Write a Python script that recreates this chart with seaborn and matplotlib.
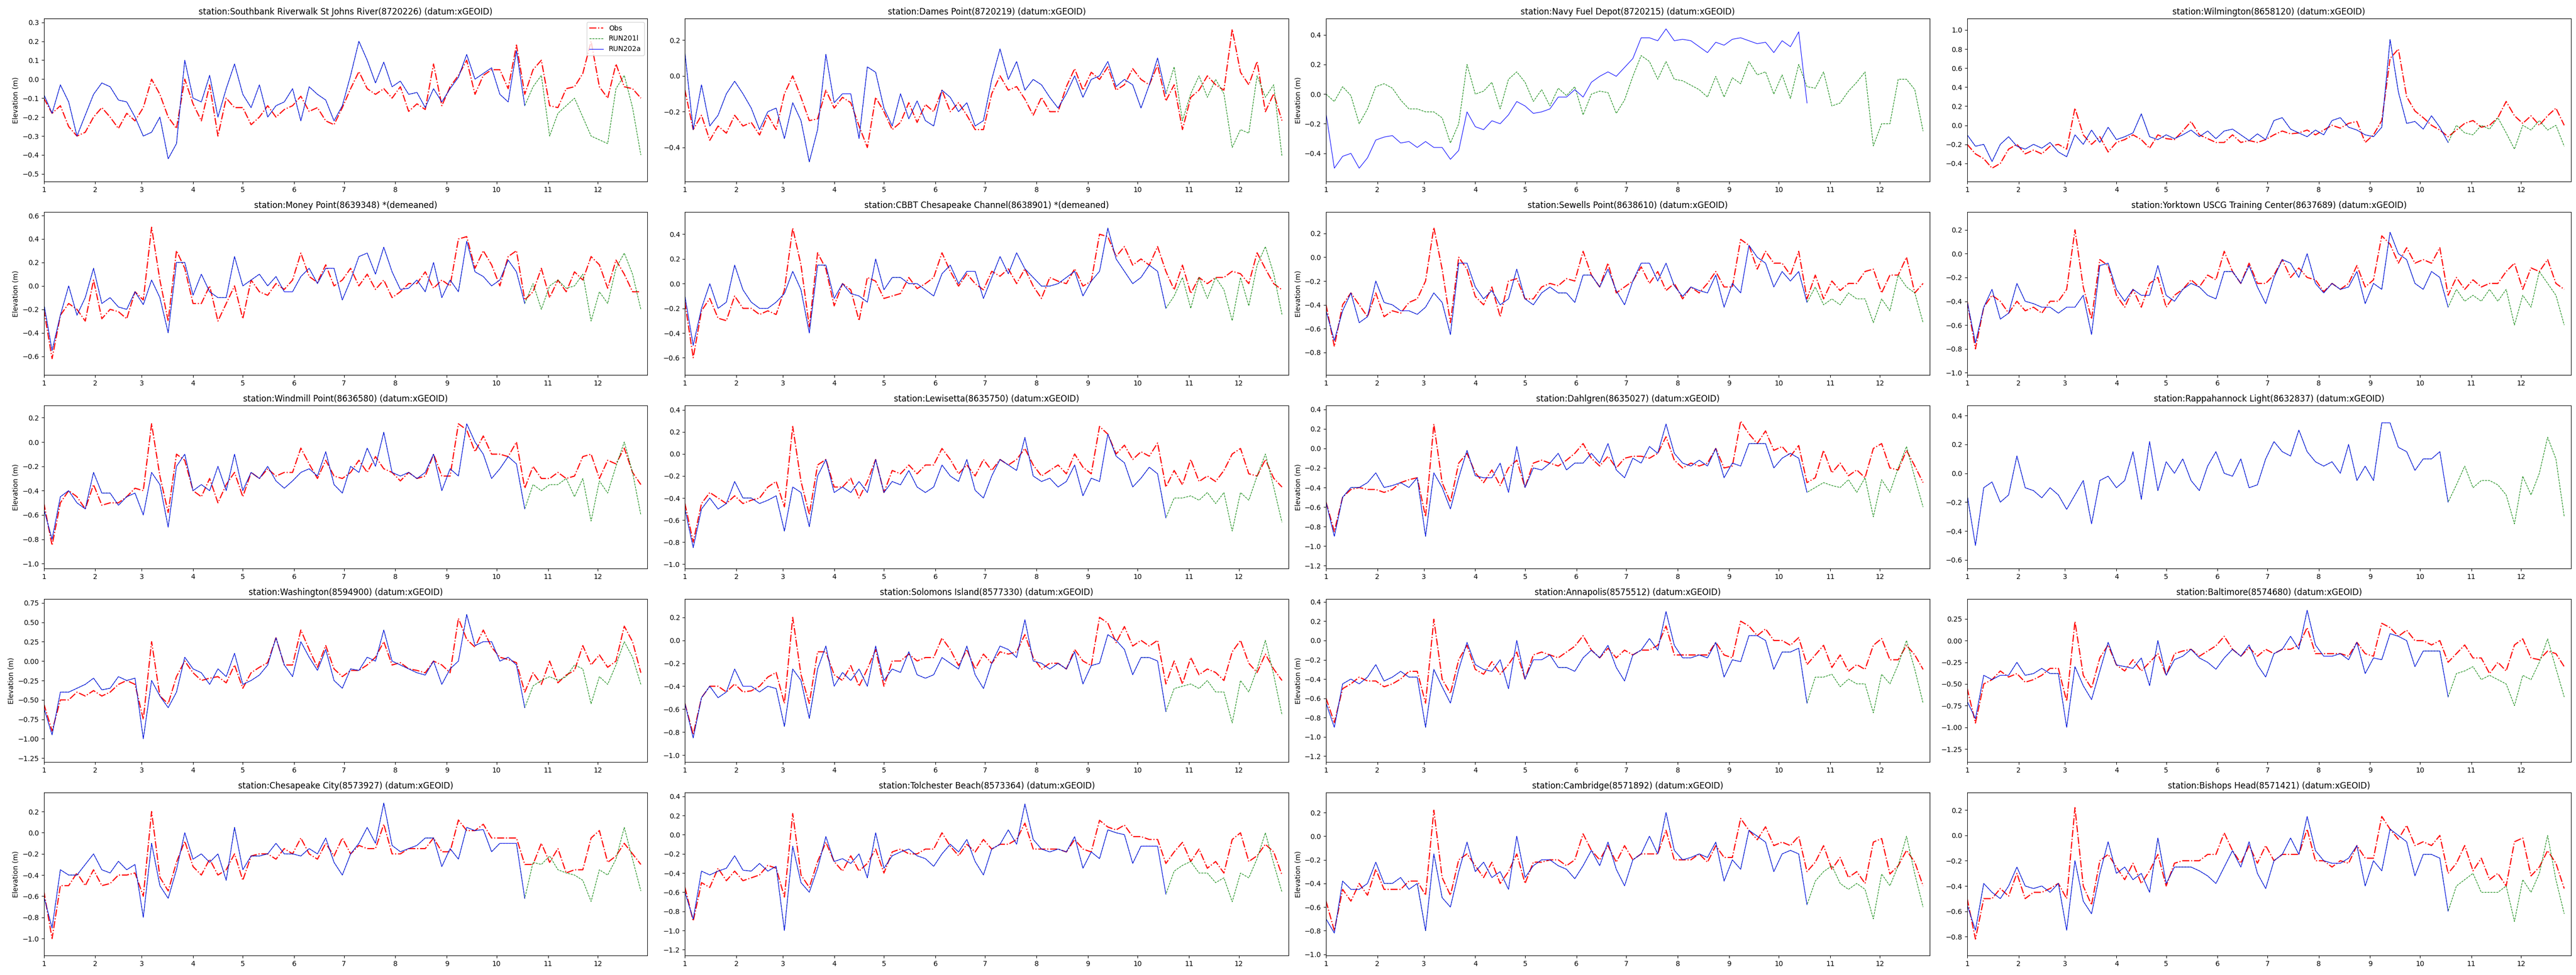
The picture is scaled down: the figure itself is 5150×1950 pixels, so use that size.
import pandas as pd
import matplotlib
matplotlib.use("Agg")
import matplotlib.pyplot as plt
import matplotlib.dates as mdates
from matplotlib.ticker import FuncFormatter
import seaborn as sns

# ---------- data: one sample every 5 days from Jan 1 ----------
dates = pd.date_range("2018-01-01", periods=73, freq="5D")

# Southbank Riverwalk St Johns River (8720226)
obs_8720226 = [-0.10, -0.18, -0.14, -0.25, -0.30, -0.28, -0.20, -0.15, -0.20, -0.26,
               -0.18, -0.22, -0.15, 0.00, -0.08, -0.20, -0.26, 0.00, -0.13, -0.22,
               -0.03, -0.30, -0.10, -0.15, -0.15, -0.24, -0.20, -0.14, -0.20, -0.16,
               -0.14, -0.09, -0.17, -0.15, -0.22, -0.24, -0.15, -0.05, 0.04, -0.05,
               -0.08, -0.05, -0.10, -0.04, -0.17, -0.13, -0.16, 0.08, -0.14, -0.04,
               0.02, 0.10, -0.08, 0.02, 0.05, 0.05, -0.05, 0.18, -0.08, 0.05,
               0.10, -0.14, -0.15, -0.05, -0.04, 0.03, 0.20, -0.04, -0.10, 0.08,
               -0.04, -0.05, -0.10]
run202a_8720226 = [-0.08, -0.18, -0.03, -0.12, -0.30, -0.19, -0.08, -0.02, -0.04, -0.11,
                   -0.12, -0.20, -0.30, -0.28, -0.20, -0.42, -0.34, 0.10, -0.10, -0.12,
                   0.02, -0.20, -0.05, 0.08, -0.08, -0.15, -0.03, -0.20, -0.14, -0.12,
                   -0.05, -0.22, -0.04, -0.08, -0.11, -0.22, -0.14, 0.02, 0.20, 0.10,
                   -0.02, 0.09, -0.04, -0.01, -0.08, -0.07, -0.15, -0.05, -0.12, -0.05,
                   0.01, 0.13, 0.00, 0.03, 0.06, -0.08, -0.12, 0.15, -0.14]
run201l_tail_8720226 = [-0.04, 0.02, -0.30, -0.18, -0.14, -0.10, -0.20, -0.30, -0.32, -0.34,
                        -0.05, 0.02, -0.15, -0.40]

# Dames Point (8720219)
obs_8720219 = [-0.08, -0.30, -0.22, -0.36, -0.28, -0.32, -0.22, -0.28, -0.26, -0.33,
               -0.22, -0.30, -0.10, 0.00, -0.12, -0.25, -0.24, -0.08, -0.18, -0.12,
               -0.15, -0.28, -0.40, -0.12, -0.20, -0.30, -0.26, -0.15, -0.26, -0.16,
               -0.20, -0.08, -0.20, -0.15, -0.22, -0.30, -0.30, -0.10, 0.00, -0.08,
               -0.06, -0.13, -0.22, -0.12, -0.20, -0.20, -0.06, 0.04, -0.08, 0.02,
               -0.02, 0.05, -0.08, -0.05, 0.04, -0.02, -0.05, 0.06, -0.14, -0.05,
               -0.30, -0.12, -0.08, 0.00, -0.05, -0.08, 0.26, 0.02, -0.05, 0.08,
               -0.20, -0.10, -0.25]
run202a_8720219 = [0.13, -0.30, -0.05, -0.28, -0.22, -0.10, -0.03, -0.10, -0.18, -0.30,
                   -0.20, -0.18, -0.35, -0.15, -0.25, -0.48, -0.30, 0.12, -0.15, -0.10,
                   -0.10, -0.35, 0.05, 0.02, -0.18, -0.28, -0.10, -0.24, -0.14, -0.25,
                   -0.28, -0.08, -0.12, -0.20, -0.15, -0.28, -0.25, -0.02, 0.15, -0.02,
                   0.08, -0.08, -0.02, -0.05, -0.12, -0.18, -0.10, 0.00, -0.12, -0.02,
                   0.00, 0.08, -0.06, -0.02, -0.05, -0.18, -0.05, 0.10, -0.10]
run201l_tail_8720219 = [0.05, -0.25, -0.10, 0.00, -0.12, -0.02, -0.10, -0.40, -0.30, -0.32,
                        0.00, -0.12, -0.05, -0.45]

# Navy Fuel Depot (8720215) - no observations, the two runs differ
run202a_8720215 = [-0.13, -0.50, -0.42, -0.40, -0.50, -0.43, -0.31, -0.29, -0.28, -0.33,
                   -0.32, -0.36, -0.32, -0.36, -0.36, -0.44, -0.38, -0.12, -0.22, -0.24,
                   -0.18, -0.20, -0.14, -0.05, -0.08, -0.13, -0.12, -0.10, -0.02, -0.02,
                   0.03, -0.02, 0.08, 0.12, 0.15, 0.12, 0.18, 0.24, 0.38, 0.38,
                   0.36, 0.44, 0.36, 0.37, 0.36, 0.32, 0.28, 0.35, 0.33, 0.37,
                   0.38, 0.36, 0.34, 0.35, 0.28, 0.36, 0.32, 0.42, -0.06]
run201l_8720215 = [0.00, -0.05, 0.05, -0.01, -0.20, -0.10, 0.05, 0.07, 0.04, -0.04,
                   -0.10, -0.10, -0.12, -0.12, -0.16, -0.33, -0.20, 0.20, 0.00, 0.02,
                   0.08, -0.10, 0.10, 0.15, 0.08, -0.05, 0.03, -0.08, 0.04, -0.01,
                   0.05, -0.14, 0.00, 0.02, 0.01, -0.13, -0.04, 0.12, 0.26, 0.22,
                   0.10, 0.22, 0.10, 0.09, 0.06, 0.03, -0.02, 0.12, -0.02, 0.11,
                   0.07, 0.22, 0.13, 0.15, 0.00, 0.13, -0.03, 0.20, 0.05, 0.04,
                   0.15, -0.08, -0.06, 0.02, 0.08, 0.15, -0.35, -0.20, -0.20, 0.10,
                   0.10, 0.03, -0.25]

# Wilmington (8658120)
obs_8658120 = [-0.20, -0.30, -0.35, -0.45, -0.40, -0.25, -0.20, -0.30, -0.26, -0.30,
               -0.22, -0.20, -0.25, 0.18, -0.10, -0.20, -0.12, -0.28, -0.18, -0.15,
               -0.10, -0.15, -0.24, -0.10, -0.14, -0.15, -0.06, 0.04, -0.10, -0.14,
               -0.18, -0.18, -0.10, -0.18, -0.16, -0.18, -0.15, -0.10, -0.06, -0.09,
               -0.08, -0.05, -0.10, -0.05, 0.00, -0.03, 0.02, 0.04, -0.18, -0.10,
               0.05, 0.70, 0.80, 0.30, 0.15, 0.08, 0.00, -0.05, -0.12, -0.05,
               0.02, 0.05, -0.02, 0.00, 0.08, 0.25, 0.10, 0.02, 0.10, 0.00,
               0.10, 0.18, 0.00]
run202a_8658120 = [-0.10, -0.22, -0.20, -0.38, -0.20, -0.12, -0.22, -0.25, -0.20, -0.24,
                   -0.18, -0.28, -0.33, -0.10, -0.20, -0.05, -0.18, -0.02, -0.15, -0.12,
                   -0.08, 0.12, -0.12, -0.15, -0.10, -0.14, -0.10, -0.05, -0.12, -0.06,
                   -0.14, -0.06, -0.04, -0.10, -0.16, -0.09, -0.15, 0.05, 0.08, -0.04,
                   -0.08, -0.12, -0.05, -0.10, 0.05, 0.08, -0.02, -0.05, -0.10, -0.12,
                   -0.02, 0.90, 0.35, 0.02, 0.04, -0.04, 0.10, -0.02, -0.18]
run201l_tail_8658120 = [0.00, -0.08, -0.10, 0.00, -0.04, 0.08, -0.08, -0.25, 0.00, -0.05,
                        0.05, -0.05, 0.00, -0.22]

# Money Point (8639348)
obs_8639348 = [-0.20, -0.62, -0.25, -0.15, -0.20, -0.30, 0.05, -0.28, -0.20, -0.22,
               -0.28, -0.05, -0.12, 0.50, 0.05, -0.30, 0.30, 0.15, -0.15, -0.15,
               0.00, -0.30, -0.15, 0.00, -0.28, 0.05, -0.05, -0.08, 0.02, -0.03,
               0.05, 0.28, 0.08, 0.03, 0.18, 0.00, 0.05, 0.15, 0.00, 0.10,
               -0.03, 0.05, -0.10, -0.05, 0.02, 0.02, 0.12, -0.02, 0.05, 0.00,
               0.40, 0.42, 0.15, 0.30, 0.18, 0.00, 0.25, 0.30, -0.12, -0.05,
               0.15, -0.10, 0.05, -0.05, 0.12, 0.05, 0.25, 0.18, -0.02, 0.22,
               0.10, -0.05, -0.05]
run202a_8639348 = [-0.15, -0.55, -0.25, 0.00, -0.25, -0.10, 0.15, -0.15, -0.10, -0.18,
                   -0.20, -0.05, -0.16, 0.05, -0.10, -0.40, 0.20, 0.20, -0.08, 0.10,
                   -0.05, -0.10, -0.10, 0.25, 0.00, 0.05, 0.10, 0.00, 0.08, -0.05,
                   -0.05, 0.08, 0.15, 0.02, 0.15, 0.15, -0.12, 0.05, 0.25, 0.28,
                   0.10, 0.33, 0.12, -0.03, -0.02, 0.05, -0.05, 0.20, -0.10, 0.05,
                   -0.05, 0.38, 0.12, 0.08, 0.00, 0.05, 0.22, 0.12, -0.15]
run201l_tail_8639348 = [0.02, -0.20, 0.00, 0.05, -0.02, 0.00, 0.10, -0.30, -0.05, -0.15,
                        0.15, 0.28, 0.10, -0.20]

# CBBT Chesapeake Channel (8638901)
obs_8638901 = [-0.15, -0.60, -0.22, -0.12, -0.28, -0.30, -0.10, -0.20, -0.20, -0.25,
               -0.22, -0.25, -0.05, 0.45, 0.15, -0.35, 0.25, 0.12, -0.18, 0.00,
               -0.05, -0.30, 0.05, 0.02, -0.12, -0.10, -0.08, 0.05, -0.04, 0.00,
               0.05, 0.25, 0.10, -0.02, 0.08, 0.00, -0.05, 0.10, 0.06, 0.12,
               0.00, 0.12, -0.02, -0.12, 0.05, 0.02, 0.00, 0.12, -0.02, 0.02,
               0.40, 0.38, 0.22, 0.30, 0.15, 0.20, 0.15, 0.30, 0.10, -0.05,
               0.15, -0.08, 0.05, 0.00, 0.05, 0.05, 0.10, 0.08, 0.00, 0.25,
               0.12, 0.00, -0.05]
run202a_8638901 = [-0.10, -0.50, -0.20, 0.00, -0.20, -0.15, 0.15, -0.05, -0.15, -0.20,
                   -0.20, -0.15, -0.08, 0.10, -0.05, -0.40, 0.15, 0.15, -0.12, 0.00,
                   -0.08, -0.10, -0.15, 0.20, -0.05, 0.05, 0.05, 0.00, 0.00, -0.05,
                   -0.10, 0.08, 0.15, 0.00, 0.10, 0.10, -0.12, 0.05, 0.22, 0.08,
                   0.25, 0.12, 0.05, -0.02, -0.02, 0.00, 0.05, 0.10, -0.10, 0.02,
                   0.10, 0.45, 0.20, 0.10, 0.00, 0.05, 0.15, 0.10, -0.20]
run201l_tail_8638901 = [-0.10, 0.05, -0.20, 0.05, -0.12, 0.05, -0.05, -0.30, 0.05, -0.18,
                        0.15, 0.30, 0.08, -0.25]

# Sewells Point (8638610)
obs_8638610 = [-0.40, -0.75, -0.40, -0.30, -0.40, -0.50, -0.30, -0.50, -0.45, -0.47,
               -0.38, -0.35, -0.20, 0.25, -0.10, -0.55, 0.00, -0.10, -0.33, -0.40,
               -0.25, -0.50, -0.20, -0.18, -0.35, -0.35, -0.25, -0.22, -0.24, -0.18,
               -0.20, 0.05, -0.15, -0.25, -0.05, -0.30, -0.25, -0.20, -0.08, -0.22,
               -0.12, -0.28, -0.22, -0.35, -0.25, -0.30, -0.22, -0.12, -0.25, -0.25,
               0.15, 0.10, -0.10, 0.05, -0.05, -0.05, -0.15, 0.05, -0.35, -0.15,
               -0.35, -0.20, -0.28, -0.22, -0.22, -0.12, -0.10, -0.30, -0.15, -0.15,
               0.00, -0.30, -0.22]
run202a_8638610 = [-0.45, -0.70, -0.45, -0.30, -0.55, -0.50, -0.20, -0.38, -0.40, -0.45,
                   -0.45, -0.48, -0.42, -0.30, -0.38, -0.65, -0.05, -0.05, -0.25, -0.35,
                   -0.28, -0.40, -0.35, -0.10, -0.35, -0.40, -0.30, -0.25, -0.30, -0.30,
                   -0.38, -0.15, -0.15, -0.25, -0.10, -0.28, -0.40, -0.20, -0.05, -0.05,
                   -0.20, -0.05, -0.24, -0.33, -0.25, -0.28, -0.30, -0.15, -0.42, -0.22,
                   -0.30, 0.10, 0.00, -0.05, -0.25, -0.12, -0.20, -0.12, -0.38]
run201l_tail_8638610 = [-0.25, -0.40, -0.35, -0.40, -0.30, -0.35, -0.35, -0.55, -0.35, -0.45,
                        -0.15, -0.25, -0.30, -0.55]

# Yorktown USCG Training Center (8637689)
obs_8637689 = [-0.40, -0.80, -0.45, -0.35, -0.40, -0.50, -0.40, -0.48, -0.45, -0.50,
               -0.40, -0.40, -0.30, 0.20, -0.28, -0.55, -0.05, -0.10, -0.35, -0.45,
               -0.30, -0.45, -0.25, -0.20, -0.45, -0.35, -0.30, -0.22, -0.28, -0.18,
               -0.22, 0.02, -0.15, -0.25, -0.08, -0.25, -0.25, -0.18, -0.05, -0.20,
               -0.12, -0.20, -0.22, -0.32, -0.25, -0.30, -0.25, -0.10, -0.28, -0.22,
               0.15, 0.08, -0.08, 0.05, -0.08, -0.05, -0.08, 0.05, -0.35, -0.20,
               -0.30, -0.22, -0.28, -0.25, -0.25, -0.15, -0.08, -0.30, -0.12, -0.15,
               -0.05, -0.25, -0.30]
run202a_8637689 = [-0.40, -0.75, -0.45, -0.30, -0.55, -0.50, -0.25, -0.40, -0.42, -0.45,
                   -0.45, -0.50, -0.45, -0.45, -0.35, -0.68, -0.10, -0.08, -0.30, -0.40,
                   -0.30, -0.35, -0.35, -0.10, -0.35, -0.40, -0.30, -0.25, -0.28, -0.35,
                   -0.38, -0.15, -0.15, -0.25, -0.10, -0.28, -0.42, -0.20, -0.05, -0.08,
                   -0.20, 0.00, -0.25, -0.33, -0.25, -0.30, -0.28, -0.15, -0.42, -0.25,
                   -0.30, 0.18, 0.00, -0.05, -0.25, -0.30, -0.15, -0.20, -0.45]
run201l_tail_8637689 = [-0.30, -0.40, -0.35, -0.40, -0.30, -0.40, -0.30, -0.60, -0.35, -0.45,
                        -0.15, -0.25, -0.35, -0.60]

# Windmill Point (8636580)
obs_8636580 = [-0.50, -0.85, -0.50, -0.40, -0.45, -0.55, -0.35, -0.52, -0.50, -0.50,
               -0.45, -0.38, -0.40, 0.15, -0.28, -0.58, -0.10, -0.15, -0.40, -0.45,
               -0.30, -0.50, -0.35, -0.25, -0.45, -0.25, -0.30, -0.22, -0.28, -0.25,
               -0.25, -0.05, -0.18, -0.30, -0.15, -0.28, -0.30, -0.25, -0.15, -0.25,
               -0.12, -0.22, -0.25, -0.32, -0.25, -0.30, -0.28, -0.10, -0.28, -0.28,
               0.15, 0.10, -0.08, 0.05, -0.10, -0.10, -0.12, 0.00, -0.38, -0.20,
               -0.30, -0.30, -0.25, -0.30, -0.28, -0.12, -0.10, -0.30, -0.15, -0.18,
               -0.05, -0.25, -0.35]
run202a_8636580 = [-0.55, -0.80, -0.45, -0.40, -0.50, -0.55, -0.25, -0.42, -0.42, -0.52,
                   -0.45, -0.42, -0.60, -0.25, -0.35, -0.70, -0.20, -0.10, -0.40, -0.35,
                   -0.40, -0.20, -0.40, -0.10, -0.40, -0.25, -0.30, -0.20, -0.32, -0.38,
                   -0.32, -0.25, -0.22, -0.28, -0.08, -0.35, -0.42, -0.20, -0.25, -0.05,
                   -0.20, 0.08, -0.25, -0.28, -0.25, -0.30, -0.25, -0.10, -0.40, -0.22,
                   -0.28, 0.15, 0.00, -0.10, -0.30, -0.22, -0.12, -0.18, -0.55]
run201l_tail_8636580 = [-0.35, -0.40, -0.35, -0.35, -0.30, -0.45, -0.30, -0.65, -0.32, -0.42,
                        -0.20, 0.00, -0.25, -0.60]

# Lewisetta (8635750)
obs_8635750 = [-0.45, -0.80, -0.45, -0.35, -0.40, -0.45, -0.38, -0.45, -0.42, -0.40,
               -0.30, -0.25, -0.48, 0.25, -0.25, -0.55, -0.10, -0.05, -0.30, -0.30,
               -0.22, -0.40, -0.25, -0.05, -0.35, -0.15, -0.18, -0.10, -0.18, -0.10,
               -0.10, 0.05, -0.05, -0.18, -0.10, -0.20, -0.05, -0.15, -0.05, -0.10,
               -0.05, 0.05, -0.10, -0.20, -0.15, -0.10, -0.18, 0.00, -0.12, -0.18,
               0.25, 0.18, 0.00, 0.08, -0.05, 0.02, -0.02, 0.10, -0.30, -0.15,
               -0.28, -0.05, -0.25, -0.20, -0.25, -0.15, 0.00, 0.05, -0.18, -0.20,
               -0.05, -0.22, -0.30]
run202a_8635750 = [-0.50, -0.85, -0.50, -0.40, -0.50, -0.45, -0.25, -0.40, -0.40, -0.45,
                   -0.42, -0.38, -0.70, -0.30, -0.35, -0.66, -0.20, -0.05, -0.35, -0.30,
                   -0.35, -0.25, -0.35, -0.05, -0.35, -0.25, -0.28, -0.15, -0.30, -0.35,
                   -0.30, -0.10, -0.20, -0.25, -0.05, -0.33, -0.40, -0.20, -0.05, -0.10,
                   -0.15, 0.15, -0.20, -0.25, -0.22, -0.30, -0.25, -0.10, -0.38, -0.22,
                   -0.25, 0.18, -0.02, -0.08, -0.30, -0.22, -0.12, -0.18, -0.58]
run201l_tail_8635750 = [-0.40, -0.40, -0.38, -0.42, -0.35, -0.45, -0.35, -0.70, -0.35, -0.42,
                        -0.20, 0.00, -0.30, -0.62]

# Dahlgren (8635027)
obs_8635027 = [-0.55, -0.85, -0.50, -0.42, -0.40, -0.42, -0.42, -0.45, -0.42, -0.35,
               -0.32, -0.30, -0.70, 0.25, -0.35, -0.55, -0.15, -0.05, -0.25, -0.35,
               -0.22, -0.38, -0.20, -0.12, -0.40, -0.15, -0.12, -0.15, -0.18, -0.12,
               -0.05, 0.05, -0.10, -0.18, -0.08, -0.20, -0.10, -0.08, -0.08, -0.10,
               -0.05, 0.12, -0.12, -0.20, -0.15, -0.18, -0.15, 0.00, -0.20, -0.18,
               0.28, 0.15, 0.05, 0.18, -0.02, 0.02, -0.08, 0.03, -0.35, -0.30,
               -0.02, -0.25, -0.15, -0.28, -0.22, -0.30, 0.00, 0.05, -0.20, -0.22,
               -0.02, -0.18, -0.35]
run202a_8635027 = [-0.55, -0.90, -0.50, -0.40, -0.40, -0.35, -0.25, -0.40, -0.38, -0.35,
                   -0.40, -0.30, -0.90, -0.25, -0.40, -0.62, -0.30, -0.02, -0.28, -0.30,
                   -0.30, -0.15, -0.45, 0.02, -0.40, -0.20, -0.22, -0.15, -0.05, -0.22,
                   -0.15, -0.15, -0.05, -0.15, 0.05, -0.22, -0.30, -0.10, -0.15, 0.02,
                   -0.05, 0.25, -0.05, -0.15, -0.18, -0.12, -0.18, 0.00, -0.30, -0.15,
                   -0.18, 0.05, 0.05, 0.05, -0.20, -0.10, -0.05, -0.10, -0.45]
run201l_tail_8635027 = [-0.40, -0.35, -0.38, -0.40, -0.32, -0.45, -0.30, -0.70, -0.32, -0.45,
                        -0.20, 0.02, -0.30, -0.60]

# Rappahannock Light (8632837) - no observations
run202a_8632837 = [-0.15, -0.50, -0.10, -0.06, -0.20, -0.15, 0.12, -0.10, -0.12, -0.17,
                   -0.10, -0.15, -0.25, -0.15, -0.05, -0.35, -0.05, -0.02, -0.10, -0.05,
                   0.15, -0.18, 0.22, -0.12, 0.08, 0.00, 0.10, -0.05, -0.12, 0.05,
                   0.15, 0.00, -0.02, 0.10, -0.10, -0.08, 0.10, 0.22, 0.15, 0.12,
                   0.30, 0.15, 0.08, 0.05, 0.08, 0.00, 0.20, -0.05, 0.05, -0.05,
                   0.35, 0.35, 0.18, 0.15, 0.02, 0.10, 0.10, 0.15, -0.20]
run201l_tail_8632837 = [-0.08, 0.05, -0.10, -0.05, -0.05, -0.08, -0.15, -0.35, -0.02, -0.15,
                        0.00, 0.25, 0.10, -0.30]

# Washington (8594900)
obs_8594900 = [-0.55, -0.90, -0.50, -0.50, -0.40, -0.45, -0.38, -0.45, -0.40, -0.30,
               -0.25, -0.30, -0.75, 0.25, -0.45, -0.55, -0.20, 0.00, -0.15, -0.25,
               -0.22, -0.20, -0.28, -0.05, -0.35, -0.15, -0.08, -0.02, 0.30, -0.05,
               -0.05, 0.40, 0.15, -0.08, 0.20, -0.10, -0.20, -0.12, -0.12, -0.05,
               0.05, 0.25, -0.05, -0.02, -0.10, -0.12, -0.15, 0.00, -0.05, -0.15,
               0.55, 0.28, 0.18, 0.40, 0.18, 0.05, 0.02, -0.02, -0.40, -0.15,
               -0.30, 0.00, -0.28, -0.18, -0.12, 0.20, -0.05, 0.08, -0.08, 0.00,
               0.45, 0.25, -0.15]
run202a_8594900 = [-0.60, -0.95, -0.40, -0.40, -0.35, -0.30, -0.22, -0.37, -0.35, -0.20,
                   -0.25, -0.22, -1.00, -0.25, -0.45, -0.60, -0.40, 0.05, -0.10, -0.15,
                   -0.30, -0.10, -0.20, 0.10, -0.30, -0.25, -0.18, -0.05, 0.30, -0.05,
                   -0.20, 0.25, 0.05, -0.12, 0.15, -0.25, -0.35, -0.10, -0.12, 0.05,
                   0.00, 0.40, 0.00, -0.05, -0.10, -0.15, -0.18, 0.00, -0.30, -0.10,
                   0.00, 0.60, 0.20, 0.25, 0.25, 0.00, 0.05, -0.05, -0.60]
run201l_tail_8594900 = [-0.32, -0.25, -0.20, -0.25, -0.20, -0.05, -0.10, -0.55, -0.20, -0.30,
                        -0.05, 0.25, 0.05, -0.30]

# Solomons Island (8577330)
obs_8577330 = [-0.55, -0.82, -0.50, -0.40, -0.40, -0.45, -0.38, -0.45, -0.44, -0.40,
               -0.32, -0.28, -0.55, 0.20, -0.30, -0.55, -0.10, -0.10, -0.30, -0.35,
               -0.22, -0.40, -0.25, -0.08, -0.40, -0.18, -0.18, -0.12, -0.18, -0.15,
               -0.15, 0.02, -0.08, -0.22, -0.08, -0.25, -0.12, -0.20, -0.10, -0.12,
               -0.10, 0.05, -0.15, -0.25, -0.20, -0.20, -0.25, -0.08, -0.18, -0.22,
               0.20, 0.15, -0.02, 0.12, -0.05, 0.00, -0.05, 0.00, -0.38, -0.18,
               -0.38, -0.15, -0.30, -0.25, -0.28, -0.35, -0.10, 0.00, -0.20, -0.28,
               -0.12, -0.25, -0.35]
run202a_8577330 = [-0.55, -0.85, -0.50, -0.40, -0.50, -0.45, -0.25, -0.40, -0.40, -0.45,
                   -0.40, -0.42, -0.75, -0.25, -0.35, -0.68, -0.25, -0.05, -0.40, -0.28,
                   -0.35, -0.25, -0.40, -0.05, -0.35, -0.25, -0.28, -0.10, -0.30, -0.33,
                   -0.30, -0.15, -0.20, -0.25, -0.05, -0.30, -0.42, -0.20, -0.05, -0.08,
                   -0.15, 0.18, -0.18, -0.20, -0.25, -0.20, -0.25, -0.10, -0.38, -0.22,
                   -0.20, 0.05, 0.00, -0.08, -0.30, -0.15, -0.15, -0.18, -0.62]
run201l_tail_8577330 = [-0.42, -0.40, -0.38, -0.42, -0.35, -0.45, -0.45, -0.72, -0.35, -0.45,
                        -0.25, 0.00, -0.30, -0.65]

# Annapolis (8575512)
obs_8575512 = [-0.60, -0.85, -0.50, -0.45, -0.38, -0.42, -0.42, -0.48, -0.45, -0.40,
               -0.32, -0.32, -0.65, 0.22, -0.40, -0.55, -0.20, -0.05, -0.30, -0.35,
               -0.22, -0.35, -0.25, -0.12, -0.40, -0.15, -0.12, -0.15, -0.18, -0.12,
               -0.06, 0.05, -0.10, -0.18, -0.08, -0.18, -0.10, -0.15, -0.10, -0.10,
               -0.05, 0.15, -0.15, -0.15, -0.15, -0.15, -0.15, -0.02, -0.15, -0.18,
               0.20, 0.15, 0.05, 0.12, 0.00, 0.00, -0.05, 0.03, -0.25, -0.15,
               -0.05, -0.28, -0.15, -0.32, -0.25, -0.30, -0.05, 0.02, -0.20, -0.20,
               -0.05, -0.15, -0.30]
run202a_8575512 = [-0.65, -0.90, -0.45, -0.40, -0.45, -0.38, -0.25, -0.42, -0.38, -0.32,
                   -0.38, -0.38, -0.90, -0.30, -0.48, -0.65, -0.30, -0.02, -0.25, -0.30,
                   -0.32, -0.20, -0.50, 0.00, -0.40, -0.20, -0.20, -0.15, -0.28, -0.28,
                   -0.32, -0.18, -0.10, -0.18, -0.05, -0.28, -0.42, -0.15, -0.10, 0.02,
                   -0.10, 0.30, -0.05, -0.18, -0.18, -0.15, -0.18, -0.02, -0.38, -0.20,
                   -0.22, 0.05, 0.05, 0.00, -0.30, -0.12, -0.12, -0.08, -0.65]
run201l_tail_8575512 = [-0.38, -0.38, -0.35, -0.48, -0.40, -0.45, -0.45, -0.75, -0.35, -0.45,
                        -0.25, 0.00, -0.30, -0.65]

# Baltimore (8574680)
obs_8574680 = [-0.55, -0.95, -0.50, -0.45, -0.35, -0.42, -0.38, -0.48, -0.45, -0.40,
               -0.32, -0.32, -0.70, 0.22, -0.40, -0.55, -0.20, -0.05, -0.28, -0.35,
               -0.22, -0.35, -0.25, -0.15, -0.40, -0.15, -0.12, -0.10, -0.18, -0.12,
               -0.06, 0.05, -0.10, -0.18, -0.08, -0.18, -0.10, -0.15, -0.10, -0.10,
               -0.05, 0.15, -0.15, -0.15, -0.15, -0.15, -0.18, -0.02, -0.15, -0.18,
               0.20, 0.15, 0.05, 0.12, 0.00, 0.00, -0.05, 0.00, -0.25, -0.15,
               -0.05, -0.20, -0.20, -0.38, -0.25, -0.35, -0.05, 0.02, -0.20, -0.22,
               -0.12, -0.15, -0.30]
run202a_8574680 = [-0.70, -0.90, -0.40, -0.45, -0.40, -0.40, -0.25, -0.40, -0.38, -0.32,
                   -0.38, -0.38, -1.00, -0.30, -0.52, -0.68, -0.35, -0.02, -0.28, -0.30,
                   -0.32, -0.20, -0.52, 0.00, -0.40, -0.22, -0.18, -0.10, -0.20, -0.25,
                   -0.33, -0.20, -0.10, -0.18, -0.05, -0.28, -0.42, -0.15, -0.10, 0.05,
                   -0.10, 0.35, -0.05, -0.18, -0.18, -0.15, -0.22, -0.02, -0.38, -0.20,
                   -0.22, 0.08, 0.05, 0.00, -0.30, -0.12, -0.12, -0.12, -0.65]
run201l_tail_8574680 = [-0.38, -0.35, -0.30, -0.45, -0.40, -0.45, -0.50, -0.75, -0.40, -0.45,
                        -0.25, 0.02, -0.32, -0.65]

# Chesapeake City (8573927)
obs_8573927 = [-0.55, -1.00, -0.50, -0.50, -0.38, -0.50, -0.35, -0.50, -0.48, -0.40,
               -0.40, -0.38, -0.60, 0.20, -0.42, -0.55, -0.28, -0.08, -0.32, -0.40,
               -0.25, -0.40, -0.35, -0.20, -0.45, -0.22, -0.20, -0.20, -0.25, -0.15,
               -0.20, -0.05, -0.20, -0.25, -0.10, -0.22, -0.05, -0.20, -0.12, -0.15,
               -0.15, 0.08, -0.20, -0.20, -0.15, -0.15, -0.15, -0.05, -0.18, -0.18,
               0.12, 0.02, 0.02, 0.08, -0.05, -0.05, -0.05, -0.05, -0.30, -0.30,
               -0.10, -0.28, -0.15, -0.38, -0.35, -0.35, -0.05, 0.02, -0.28, -0.22,
               -0.10, -0.20, -0.30]
run202a_8573927 = [-0.60, -0.90, -0.35, -0.40, -0.40, -0.30, -0.20, -0.35, -0.38, -0.27,
                   -0.35, -0.30, -0.80, -0.10, -0.50, -0.62, -0.35, 0.00, -0.25, -0.20,
                   -0.28, -0.20, -0.45, 0.05, -0.35, -0.22, -0.22, -0.20, -0.10, -0.20,
                   -0.20, -0.22, -0.15, -0.20, -0.05, -0.28, -0.40, -0.20, -0.10, 0.05,
                   -0.10, 0.28, -0.12, -0.18, -0.15, -0.12, -0.05, -0.05, -0.32, -0.15,
                   -0.25, 0.05, 0.02, 0.03, -0.18, -0.10, -0.10, -0.10, -0.62]
run201l_tail_8573927 = [-0.28, -0.30, -0.22, -0.35, -0.38, -0.40, -0.45, -0.65, -0.35, -0.40,
                        -0.25, 0.05, -0.25, -0.55]

# Tolchester Beach (8573364)
obs_8573364 = [-0.55, -0.90, -0.50, -0.55, -0.35, -0.48, -0.38, -0.48, -0.45, -0.42,
               -0.32, -0.35, -0.65, 0.22, -0.42, -0.55, -0.28, -0.08, -0.28, -0.38,
               -0.22, -0.38, -0.30, -0.15, -0.40, -0.18, -0.15, -0.20, -0.20, -0.15,
               -0.15, 0.02, -0.12, -0.22, -0.10, -0.18, -0.05, -0.15, -0.10, -0.10,
               -0.05, 0.12, -0.15, -0.15, -0.15, -0.15, -0.18, -0.05, -0.15, -0.18,
               0.15, 0.08, 0.05, 0.10, -0.02, -0.02, -0.05, -0.05, -0.30, -0.18,
               -0.08, -0.28, -0.15, -0.35, -0.28, -0.40, -0.05, 0.02, -0.28, -0.22,
               -0.10, -0.18, -0.42]
run202a_8573364 = [-0.60, -0.88, -0.38, -0.42, -0.38, -0.35, -0.22, -0.37, -0.38, -0.30,
                   -0.38, -0.33, -1.00, -0.12, -0.50, -0.60, -0.35, -0.02, -0.28, -0.25,
                   -0.30, -0.20, -0.45, 0.02, -0.35, -0.22, -0.18, -0.15, -0.22, -0.25,
                   -0.33, -0.20, -0.10, -0.18, -0.05, -0.28, -0.42, -0.15, -0.10, 0.05,
                   -0.10, 0.32, -0.05, -0.15, -0.18, -0.15, -0.18, -0.02, -0.35, -0.18,
                   -0.25, 0.05, 0.02, 0.00, -0.30, -0.12, -0.12, -0.12, -0.62]
run201l_tail_8573364 = [-0.38, -0.32, -0.28, -0.40, -0.40, -0.50, -0.45, -0.70, -0.40, -0.45,
                        -0.25, 0.02, -0.30, -0.60]

# Cambridge (8571892)
obs_8571892 = [-0.55, -0.80, -0.45, -0.55, -0.40, -0.50, -0.28, -0.45, -0.45, -0.45,
               -0.38, -0.38, -0.50, 0.22, -0.35, -0.50, -0.20, -0.15, -0.25, -0.35,
               -0.22, -0.40, -0.30, -0.15, -0.40, -0.22, -0.22, -0.20, -0.20, -0.25,
               -0.20, 0.02, -0.12, -0.20, -0.08, -0.22, -0.08, -0.20, -0.15, -0.15,
               -0.15, 0.05, -0.20, -0.20, -0.20, -0.15, -0.22, -0.08, -0.18, -0.18,
               0.15, 0.05, -0.03, 0.08, -0.08, -0.05, -0.08, 0.00, -0.30, -0.22,
               -0.08, -0.28, -0.18, -0.35, -0.30, -0.40, -0.05, -0.02, -0.32, -0.25,
               -0.12, -0.22, -0.42]
run202a_8571892 = [-0.70, -0.82, -0.38, -0.45, -0.45, -0.40, -0.22, -0.40, -0.40, -0.35,
                   -0.45, -0.40, -0.80, -0.15, -0.52, -0.60, -0.30, -0.05, -0.30, -0.22,
                   -0.35, -0.30, -0.45, 0.00, -0.35, -0.25, -0.20, -0.20, -0.25, -0.28,
                   -0.36, -0.25, -0.12, -0.25, -0.05, -0.28, -0.42, -0.20, -0.15, 0.00,
                   -0.15, 0.20, -0.12, -0.20, -0.18, -0.15, -0.18, -0.05, -0.38, -0.20,
                   -0.28, 0.05, 0.00, -0.05, -0.30, -0.15, -0.12, -0.15, -0.58]
run201l_tail_8571892 = [-0.38, -0.30, -0.25, -0.40, -0.45, -0.40, -0.45, -0.70, -0.32, -0.42,
                        -0.25, 0.00, -0.32, -0.60]

# Bishops Head (8571421)
obs_8571421 = [-0.50, -0.82, -0.50, -0.50, -0.42, -0.48, -0.30, -0.50, -0.45, -0.45,
               -0.42, -0.38, -0.50, 0.22, -0.40, -0.55, -0.20, -0.15, -0.25, -0.35,
               -0.22, -0.38, -0.28, -0.15, -0.40, -0.22, -0.20, -0.20, -0.20, -0.15,
               -0.15, 0.02, -0.12, -0.22, -0.08, -0.22, -0.08, -0.20, -0.15, -0.15,
               -0.15, 0.05, -0.20, -0.20, -0.25, -0.20, -0.22, -0.08, -0.18, -0.18,
               0.15, 0.05, -0.03, 0.08, -0.08, -0.05, -0.08, 0.00, -0.30, -0.22,
               -0.08, -0.28, -0.18, -0.35, -0.30, -0.40, -0.05, -0.02, -0.32, -0.25,
               -0.12, -0.22, -0.42]
run202a_8571421 = [-0.55, -0.75, -0.38, -0.45, -0.50, -0.40, -0.25, -0.40, -0.42, -0.40,
                   -0.45, -0.38, -0.75, -0.20, -0.52, -0.62, -0.30, -0.05, -0.30, -0.25,
                   -0.35, -0.30, -0.45, -0.02, -0.38, -0.25, -0.25, -0.25, -0.28, -0.32,
                   -0.38, -0.25, -0.12, -0.25, -0.05, -0.30, -0.42, -0.20, -0.15, -0.02,
                   -0.15, 0.15, -0.12, -0.20, -0.22, -0.22, -0.18, -0.08, -0.40, -0.20,
                   -0.28, 0.05, 0.00, -0.05, -0.32, -0.15, -0.15, -0.18, -0.60]
run201l_tail_8571421 = [-0.40, -0.35, -0.30, -0.45, -0.45, -0.45, -0.40, -0.68, -0.35, -0.45,
                        -0.30, 0.00, -0.35, -0.62]

titles = [
    "station:Southbank Riverwalk St Johns River(8720226) (datum:xGEOID)",
    "station:Dames Point(8720219) (datum:xGEOID)",
    "station:Navy Fuel Depot(8720215) (datum:xGEOID)",
    "station:Wilmington(8658120) (datum:xGEOID)",
    "station:Money Point(8639348) *(demeaned)",
    "station:CBBT Chesapeake Channel(8638901) *(demeaned)",
    "station:Sewells Point(8638610) (datum:xGEOID)",
    "station:Yorktown USCG Training Center(8637689) (datum:xGEOID)",
    "station:Windmill Point(8636580) (datum:xGEOID)",
    "station:Lewisetta(8635750) (datum:xGEOID)",
    "station:Dahlgren(8635027) (datum:xGEOID)",
    "station:Rappahannock Light(8632837) (datum:xGEOID)",
    "station:Washington(8594900) (datum:xGEOID)",
    "station:Solomons Island(8577330) (datum:xGEOID)",
    "station:Annapolis(8575512) (datum:xGEOID)",
    "station:Baltimore(8574680) (datum:xGEOID)",
    "station:Chesapeake City(8573927) (datum:xGEOID)",
    "station:Tolchester Beach(8573364) (datum:xGEOID)",
    "station:Cambridge(8571892) (datum:xGEOID)",
    "station:Bishops Head(8571421) (datum:xGEOID)",
]

# (obs, RUN202a, RUN201l) per panel; RUN201l follows RUN202a until Oct, then runs on alone
series = [
    (obs_8720226, run202a_8720226, run202a_8720226 + run201l_tail_8720226),
    (obs_8720219, run202a_8720219, run202a_8720219 + run201l_tail_8720219),
    (None, run202a_8720215, run201l_8720215),
    (obs_8658120, run202a_8658120, run202a_8658120 + run201l_tail_8658120),
    (obs_8639348, run202a_8639348, run202a_8639348 + run201l_tail_8639348),
    (obs_8638901, run202a_8638901, run202a_8638901 + run201l_tail_8638901),
    (obs_8638610, run202a_8638610, run202a_8638610 + run201l_tail_8638610),
    (obs_8637689, run202a_8637689, run202a_8637689 + run201l_tail_8637689),
    (obs_8636580, run202a_8636580, run202a_8636580 + run201l_tail_8636580),
    (obs_8635750, run202a_8635750, run202a_8635750 + run201l_tail_8635750),
    (obs_8635027, run202a_8635027, run202a_8635027 + run201l_tail_8635027),
    (None, run202a_8632837, run202a_8632837 + run201l_tail_8632837),
    (obs_8594900, run202a_8594900, run202a_8594900 + run201l_tail_8594900),
    (obs_8577330, run202a_8577330, run202a_8577330 + run201l_tail_8577330),
    (obs_8575512, run202a_8575512, run202a_8575512 + run201l_tail_8575512),
    (obs_8574680, run202a_8574680, run202a_8574680 + run201l_tail_8574680),
    (obs_8573927, run202a_8573927, run202a_8573927 + run201l_tail_8573927),
    (obs_8573364, run202a_8573364, run202a_8573364 + run201l_tail_8573364),
    (obs_8571892, run202a_8571892, run202a_8571892 + run201l_tail_8571892),
    (obs_8571421, run202a_8571421, run202a_8571421 + run201l_tail_8571421),
]

# axis ranges
y_limits = [(-0.54, 0.32), (-0.59, 0.32), (-0.59, 0.51), (-0.59, 1.12),
            (-0.76, 0.63), (-0.74, 0.58), (-0.99, 0.38), (-1.02, 0.35),
            (-1.04, 0.30), (-1.04, 0.44), (-1.23, 0.44), (-0.66, 0.47),
            (-1.30, 0.80), (-1.06, 0.36), (-1.26, 0.43), (-1.40, 0.48),
            (-1.16, 0.38), (-1.26, 0.44), (-1.01, 0.37), (-0.95, 0.34)]

# ---------- plot ----------
fig, axes = plt.subplots(5, 4, figsize=(51.5, 19.5), dpi=100)
fig.subplots_adjust(left=0.017, right=0.998, top=0.981, bottom=0.02,
                    wspace=0.062, hspace=0.187)

month_fmt = FuncFormatter(lambda v, pos: str(mdates.num2date(v).month))

for i, ax in enumerate(axes.flat):
    obs, run202a, run201l = series[i]
    first = i == 0
    if obs is not None:
        assert len(obs) == len(dates)
        sns.lineplot(x=dates[:len(obs)], y=obs, ax=ax, color="r", linestyle="-.",
                     linewidth=1.6, estimator=None, sort=False,
                     **({"label": "Obs"} if first else {}))
    assert len(run201l) == len(dates) and len(run202a) == 59
    sns.lineplot(x=dates[:len(run201l)], y=run201l, ax=ax, color="g", linestyle="--",
                 linewidth=0.8, estimator=None, sort=False,
                 **({"label": "RUN201l"} if first else {}))
    sns.lineplot(x=dates[:len(run202a)], y=run202a, ax=ax, color="b", linestyle="-",
                 linewidth=0.8, estimator=None, sort=False,
                 **({"label": "RUN202a"} if first else {}))

    ax.set_title(titles[i])
    ax.set_ylim(*y_limits[i])
    ax.set_xlim(pd.Timestamp("2018-01-01"), pd.Timestamp("2018-12-31"))
    ax.xaxis.set_major_locator(mdates.MonthLocator())
    ax.xaxis.set_major_formatter(month_fmt)
    ax.set_xlabel("")
    ax.set_ylabel("Elevation (m)" if i % 4 in (0, 2) else "")
    if first:
        ax.legend(loc="upper right")

fig.savefig("out.png", dpi=100)
